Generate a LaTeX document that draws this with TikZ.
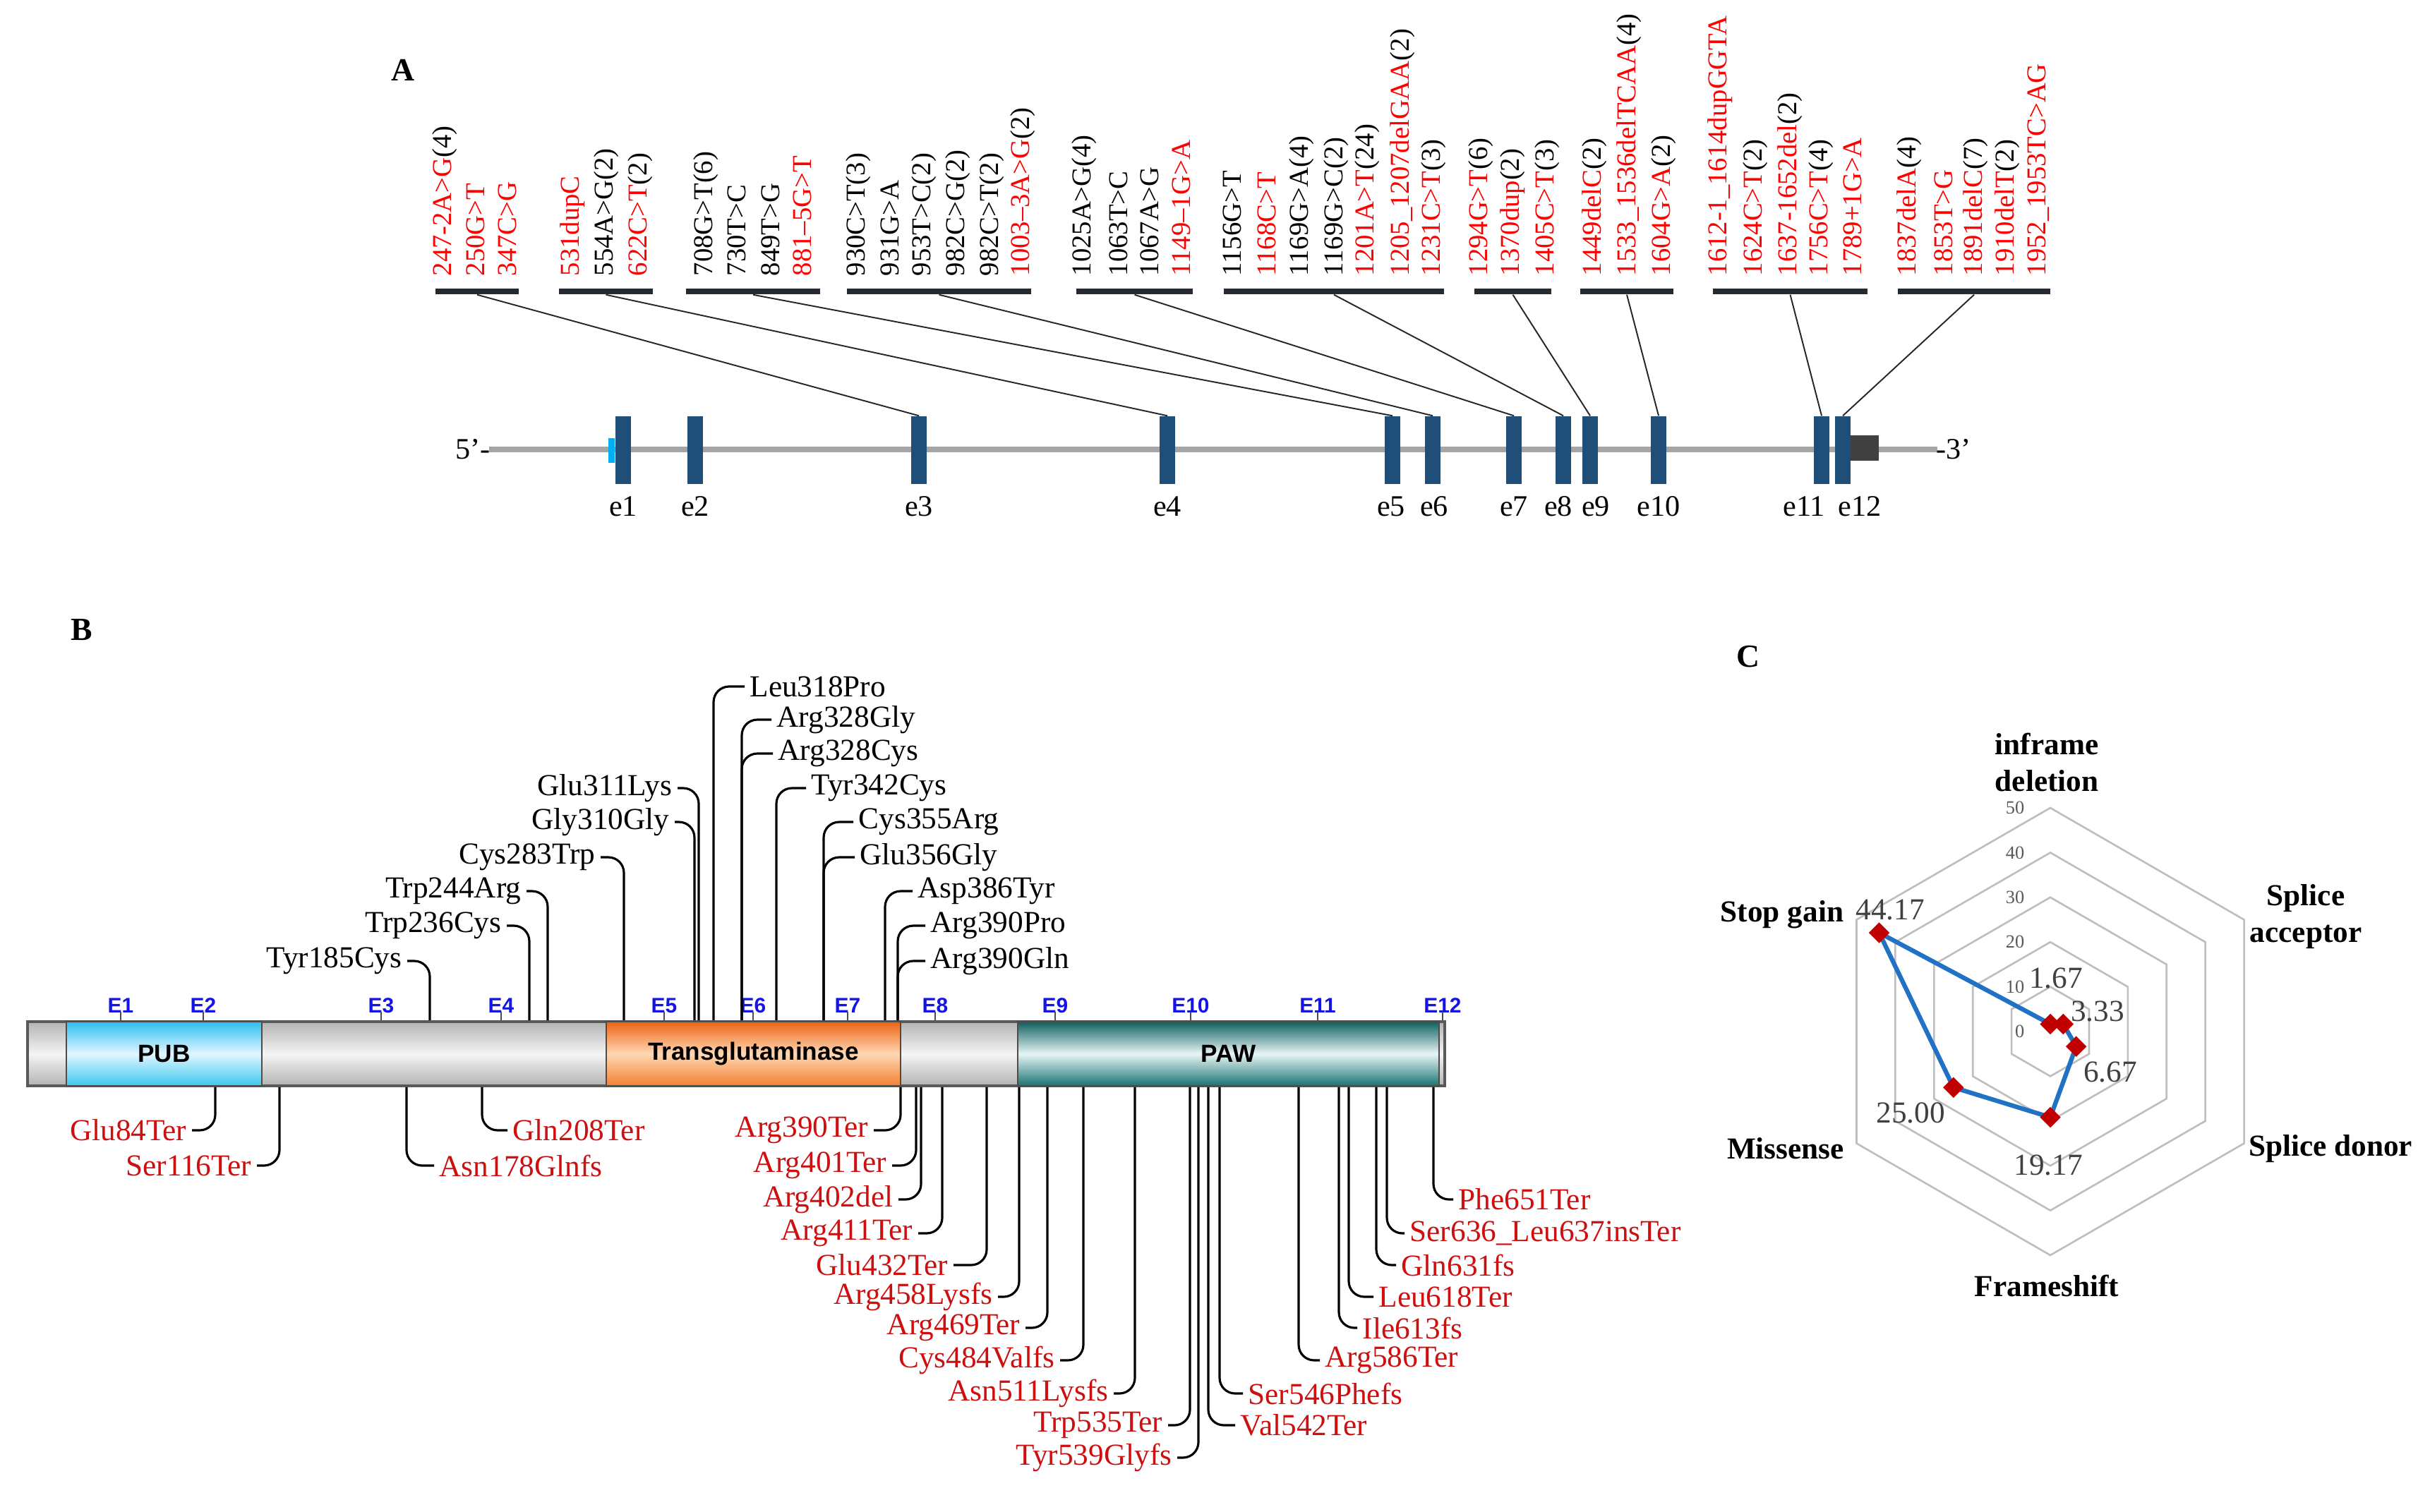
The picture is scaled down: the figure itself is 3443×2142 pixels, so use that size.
\documentclass[tikz,border=0pt]{standalone}
\usepackage{fontspec}
\setmainfont{Liberation Serif}
\newfontfamily\sansb{Liberation Sans}
\usetikzlibrary{shapes.geometric}
\definecolor{exonblue}{RGB}{31,78,121}
\definecolor{gbarc}{RGB}{35,42,52}
\definecolor{mred}{RGB}{255,0,0}
\definecolor{bred}{RGB}{205,15,15}
\definecolor{ebl}{RGB}{20,20,230}
\definecolor{ringc}{RGB}{190,190,190}
\definecolor{polyc}{RGB}{33,113,196}
\definecolor{diamc}{RGB}{192,0,0}
\definecolor{valc}{RGB}{64,64,64}
\definecolor{lineg}{RGB}{165,165,165}
\definecolor{utrg}{RGB}{64,64,64}
\definecolor{utrb}{RGB}{0,176,240}
\newcommand\mt[2]{\textcolor{mred}{#1}#2}
\newcommand\alab[3]{\node[alab] (#1) at (#2,392) {#3};}
\newcommand\bUR[5]{\node[blab,anchor=west] (#1) at (#3,#4) {#5};\draw[bconn] (#2,0 |- bar.north) |- ([xshift=-0.07cm]#1.west);}
\newcommand\bUL[5]{\node[blab,anchor=east] (#1) at (#3,#4) {#5};\draw[bconn] (#2,0 |- bar.north) |- ([xshift=0.07cm]#1.east);}
\newcommand\bDR[5]{\node[rlab,anchor=west] (#1) at (#3,#4) {#5};\draw[bconn] (#2,0 |- bar.south) |- ([xshift=-0.07cm]#1.west);}
\newcommand\bDL[5]{\node[rlab,anchor=east] (#1) at (#3,#4) {#5};\draw[bconn] (#2,0 |- bar.south) |- ([xshift=0.07cm]#1.east);}
\newcommand\ex[3]{\node[exon] (#1) at (#2,638) {};\node[elab] (l#1) at (#3,718) {#1};}
\newcommand\EL[2]{\node[Elab] (#1) at (#2,1425) {#1};\draw[etick] (#1.south |- bar.north) -- ++(0,-12);}
\begin{document}
\begin{tikzpicture}[x=0.01cm,y=-0.01cm,
  plab/.style={inner sep=0pt,font=\bfseries\fontsize{13}{15}\selectfont},
  alab/.style={rotate=90,anchor=west,inner sep=0pt,font=\fontsize{11}{13}\selectfont},
  gb/.style={fill=gbarc,minimum height=0.08cm,inner sep=0pt},
  exon/.style={fill=exonblue,minimum width=0.22cm,minimum height=0.96cm,inner sep=0pt},
  elab/.style={inner sep=0pt,font=\fontsize{12}{14}\selectfont},
  aconn/.style={draw=black!85,line width=0.55pt},
  blab/.style={inner sep=0pt,font=\fontsize{12.3}{14}\selectfont},
  rlab/.style={blab,text=bred},
  bconn/.style={line width=0.9pt,rounded corners=0.22cm},
  Elab/.style={inner sep=0pt,text=ebl,font=\sansb\bfseries\fontsize{8.5}{10}\selectfont},
  etick/.style={line width=0.6pt,draw=black!70},
  dom/.style={draw=black!70,line width=0.6pt,minimum height=0.91cm,inner sep=0pt,font=\sansb\bfseries\fontsize{10}{12}\selectfont},
  ring/.style={draw=ringc,line width=0.75pt},
  poly/.style={draw=polyc,line width=1.8pt,line join=round},
  diam/.style={diamond,fill=diamc,minimum width=0.3cm,minimum height=0.3cm,inner sep=0pt},
  vlab/.style={inner sep=0pt,text=valc,font=\fontsize{12.3}{14}\selectfont},
  tlab/.style={inner sep=0pt,text=black!65,font=\fontsize{7.5}{9}\selectfont},
  clab/.style={inner sep=0pt,align=center,font=\bfseries\fontsize{12.3}{14.8}\selectfont}
]
\useasboundingbox (0,0) rectangle (3443,2142);
%% ---------------- Panel A ----------------
\node[plab] (A) at (571,99) {A};
% group bars
\node[gb,minimum width=1.18cm] (g1) at (676,413) {};
\node[gb,minimum width=1.33cm] (g2) at (858.5,413) {};
\node[gb,minimum width=1.90cm] (g3) at (1067,413) {};
\node[gb,minimum width=2.61cm] (g4) at (1330.5,413) {};
\node[gb,minimum width=1.65cm] (g5) at (1607.5,413) {};
\node[gb,minimum width=3.12cm] (g6) at (1890,413) {};
\node[gb,minimum width=1.09cm] (g7) at (2143.5,413) {};
\node[gb,minimum width=1.32cm] (g8) at (2305,413) {};
\node[gb,minimum width=2.19cm] (g9) at (2536.5,413) {};
\node[gb,minimum width=2.16cm] (g10) at (2797,413) {};
% mutation labels
\alab{a1}{630}{\mt{247-2A>G}{(4)}}
\alab{a2}{674}{\mt{250G>T}{}}
\alab{a3}{719}{\mt{347C>G}{}}
\alab{a4}{811}{\mt{531dupC}{}}
\alab{a5}{859}{554A>G(2)}
\alab{a6}{907}{\mt{622C>T}{(2)}}
\alab{a7}{1000}{708G>T(6)}
\alab{a8}{1044}{730T>C}
\alab{a9}{1092}{849T>G}
\alab{a10}{1137}{\mt{881\textendash 5G>T}{}}
\alab{a11}{1216}{930C>T(3)}
\alab{a12}{1261}{931G>A}
\alab{a13}{1309}{953T>C(2)}
\alab{a14}{1357}{982C>G(2)}
\alab{a15}{1405}{982C>T(2)}
\alab{a16}{1449}{\mt{1003\textendash 3A>G}{(2)}}
\alab{a17}{1536}{1025A>G(4)}
\alab{a18}{1585}{1063T>C}
\alab{a19}{1629}{1067A>G}
\alab{a20}{1674}{\mt{1149\textendash 1G>A}{}}
\alab{a21}{1746}{1156G>T}
\alab{a22}{1795}{\mt{1168C>T}{}}
\alab{a23}{1844}{1169G>A(4)}
\alab{a24}{1893}{1169G>C(2)}
\alab{a25}{1937}{\mt{1201A>T}{(24)}}
\alab{a26}{1987}{\mt{1205\_1207delGAA}{(2)}}
\alab{a27}{2031}{\mt{1231C>T}{(3)}}
\alab{a28}{2098}{\mt{1294G>T}{(6)}}
\alab{a29}{2143}{\mt{1370dup}{(2)}}
\alab{a30}{2192}{\mt{1405C>T}{(3)}}
\alab{a31}{2259}{\mt{1449delC}{(2)}}
\alab{a32}{2308}{\mt{1533\_1536delTCAA}{(4)}}
\alab{a33}{2357}{\mt{1604G>A}{(2)}}
\alab{a34}{2437}{\mt{1612-1\_1614dupGGTA}{}}
\alab{a35}{2487}{\mt{1624C>T}{(2)}}
\alab{a36}{2536}{\mt{1637-1652del}{(2)}}
\alab{a37}{2580}{\mt{1756C>T}{(4)}}
\alab{a38}{2625}{\mt{1789+1G>A}{}}
\alab{a39}{2705}{\mt{1837delA}{(4)}}
\alab{a40}{2754}{\mt{1853T>G}{}}
\alab{a41}{2799}{\mt{1891delC}{(7)}}
\alab{a42}{2844}{\mt{1910delT}{(2)}}
\alab{a43}{2888}{\mt{1952\_1953TC>AG}{}}
% gene structure
\coordinate (g5p) at (693,637);
\coordinate (g3p) at (2745,637);
\draw[lineg,line width=2pt] (g5p) -- (g3p);
\node[inner sep=0pt,anchor=east,font=\fontsize{12}{14}\selectfont] (p5) at ([xshift=0.02cm]g5p) {5'-};
\node[inner sep=0pt,anchor=west,font=\fontsize{12}{14}\selectfont] (p3) at ([xshift=-0.02cm]g3p) {-3'};
\node[fill=utrb,minimum width=0.09cm,minimum height=0.35cm,inner sep=0pt] (u5) at (866,638) {};
\node[fill=utrg,minimum width=0.42cm,minimum height=0.36cm,inner sep=0pt] (u3) at (2641,635) {};
\ex{e1}{883}{883}
\ex{e2}{985}{985}
\ex{e3}{1302}{1302}
\ex{e4}{1654}{1654}
\ex{e5}{1973}{1971}
\ex{e6}{2030}{2032}
\ex{e7}{2145}{2145}
\ex{e8}{2215}{2208}
\ex{e9}{2253}{2261}
\ex{e10}{2350}{2350}
\ex{e11}{2581}{2556}
\ex{e12}{2611}{2635}
\draw[aconn] (g1.south) -- (e3.north);
\draw[aconn] (g2.south) -- (e4.north);
\draw[aconn] (g3.south) -- (e5.north);
\draw[aconn] (g4.south) -- (e6.north);
\draw[aconn] (g5.south) -- (e7.north);
\draw[aconn] (g6.south) -- (e8.north);
\draw[aconn] (g7.south) -- (e9.north);
\draw[aconn] (g8.south) -- (e10.north);
\draw[aconn] (g9.south) -- (e11.north);
\draw[aconn] (g10.south) -- (e12.north);
%% ---------------- Panel B ----------------
\node[plab] (B) at (116,893) {B};
\node[draw=black!65,line width=1.1pt,minimum width=20.06cm,minimum height=0.91cm,inner sep=0pt,
  top color=black!30,bottom color=black!30,middle color=black!4] (bar) at (1043,1493.5) {};
\node[dom,minimum width=2.77cm,top color={rgb,255:red,45;green,190;blue,240},bottom color={rgb,255:red,60;green,200;blue,240},middle color={rgb,255:red,225;green,246;blue,255}] (pub) at (232.5,1493.5) {PUB};
\node[dom,minimum width=4.17cm,top color={rgb,255:red,235;green,100;blue,20},bottom color={rgb,255:red,242;green,128;blue,50},middle color={rgb,255:red,255;green,215;blue,180}] (tg) at (1067.5,1493.5) {Transglutaminase};
\node[dom,minimum width=5.97cm,top color={rgb,255:red,15;green,95;blue,95},bottom color={rgb,255:red,25;green,115;blue,115},middle color={rgb,255:red,232;green,245;blue,245}] (paw) at (1740.5,1493.5) {PAW};
\EL{E1}{171}
\EL{E2}{288}
\EL{E3}{540}
\EL{E4}{710}
\EL{E5}{941}
\EL{E6}{1067}
\EL{E7}{1201}
\EL{E8}{1325}
\EL{E9}{1495}
\EL{E10}{1687}
\EL{E11}{1867}
\EL{E12}{2044}
% top (missense etc.)
\bUL{t1}{609}{570}{1362}{Tyr185Cys}
\bUL{t2}{750}{711}{1312}{Trp236Cys}
\bUL{t3}{776}{739}{1263}{Trp244Arg}
\bUL{t4}{884}{844}{1215}{Cys283Trp}
\bUL{t5}{984}{949}{1165}{Gly310Gly}
\bUL{t6}{990}{953}{1117}{Glu311Lys}
\bUR{t7}{1011}{1062}{973}{Leu318Pro}
\bUR{t8}{1051}{1100}{1020}{Arg328Gly}
\bUR{t9}{1051}{1102}{1068}{Arg328Cys}
\bUR{t10}{1100}{1149}{1117}{Tyr342Cys}
\bUR{t11}{1167}{1216}{1165}{Cys355Arg}
\bUR{t12}{1167}{1218}{1215}{Glu356Gly}
\bUR{t13}{1254}{1300}{1263}{Asp386Tyr}
\bUR{t14}{1272}{1318}{1312}{Arg390Pro}
\bUR{t15}{1272}{1318}{1362}{Arg390Gln}
% bottom (truncating)
\bDL{b1}{305}{265}{1602}{Glu84Ter}
\bDL{b2}{396}{357}{1652}{Ser116Ter}
\bDR{b3}{576}{622}{1652}{Asn178Glnfs}
\bDR{b4}{683}{726}{1602}{Gln208Ter}
\bDL{b5}{1276}{1231}{1602}{Arg390Ter}
\bDL{b6}{1298}{1257}{1652}{Arg401Ter}
\bDL{b7}{1305}{1266}{1700}{Arg402del}
\bDL{b8}{1335}{1294}{1748}{Arg411Ter}
\bDL{b9}{1398}{1344}{1793}{Glu432Ter}
\bDL{b10}{1444}{1407}{1838}{Arg458Lysfs}
\bDL{b11}{1484}{1446}{1882}{Arg469Ter}
\bDL{b12}{1535}{1495}{1928}{Cys484Valfs}
\bDL{b13}{1608}{1571}{1975}{Asn511Lysfs}
\bDL{b14}{1686}{1648}{2020}{Trp535Ter}
\bDL{b15}{1698}{1661}{2066}{Tyr539Glyfs}
\bDR{b16}{1712}{1757}{2020}{Val542Ter}
\bDR{b17}{1728}{1768}{1975}{Ser546Phefs}
\bDR{b18}{1840}{1877}{1928}{Arg586Ter}
\bDR{b19}{1897}{1930}{1882}{Ile613fs}
\bDR{b20}{1911}{1953}{1838}{Leu618Ter}
\bDR{b21}{1950}{1985}{1793}{Gln631fs}
\bDR{b22}{1965}{1997}{1748}{Ser636\_Leu637insTer}
\bDR{b23}{2031}{2066}{1700}{Phe651Ter}
%% ---------------- Panel C ----------------
\node[plab] (C) at (2477,931) {C};
\begin{scope}[shift={(2905,1462)}]
  \foreach \k in {1,...,5}
    \draw[ring] (-90:{\k*63.4}) -- (-30:{\k*63.4}) -- (30:{\k*63.4}) -- (90:{\k*63.4}) -- (150:{\k*63.4}) -- (210:{\k*63.4}) -- cycle;
  \foreach \k/\t in {0/0,1/10,2/20,3/30,4/40,5/50}
    \node[tlab,anchor=east] (tk\k) at (-36,{-\k*63.4}) {\t};
  \coordinate (pI) at (-90:10.6);
  \coordinate (pA) at (-30:21.1);
  \coordinate (pD) at (30:42.3);
  \coordinate (pF) at (90:121.5);
  \coordinate (pM) at (150:158.5);
  \coordinate (pS) at (210:280.0);
  \draw[poly] (pI) -- (pA) -- (pD) -- (pF) -- (pM) -- (pS) -- cycle;
  \foreach \p in {pI,pA,pD,pF,pM,pS} \node[diam] (d\p) at (\p) {};
  \node[vlab] (vI) at (8,-76) {1.67};
  \node[vlab] (vA) at (67,-29) {3.33};
  \node[vlab] (vD) at (85,57) {6.67};
  \node[vlab] (vF) at (-3,189) {19.17};
  \node[vlab] (vM) at (-198,115) {25.00};
  \node[vlab] (vS) at (-227,-172) {44.17};
  \node[clab] (cI) at (-5,-382) {inframe\\deletion};
  \node[clab] (cA) at (362,-163) {Splice\\acceptor};
  \node[clab] (cD) at (397,166) {Splice donor};
  \node[clab] (cF) at (-5,360) {Frameshift};
  \node[clab] (cM) at (-375,166) {Missense};
  \node[clab] (cS) at (-380,-166) {Stop gain};
\end{scope}
\end{tikzpicture}
\end{document}
